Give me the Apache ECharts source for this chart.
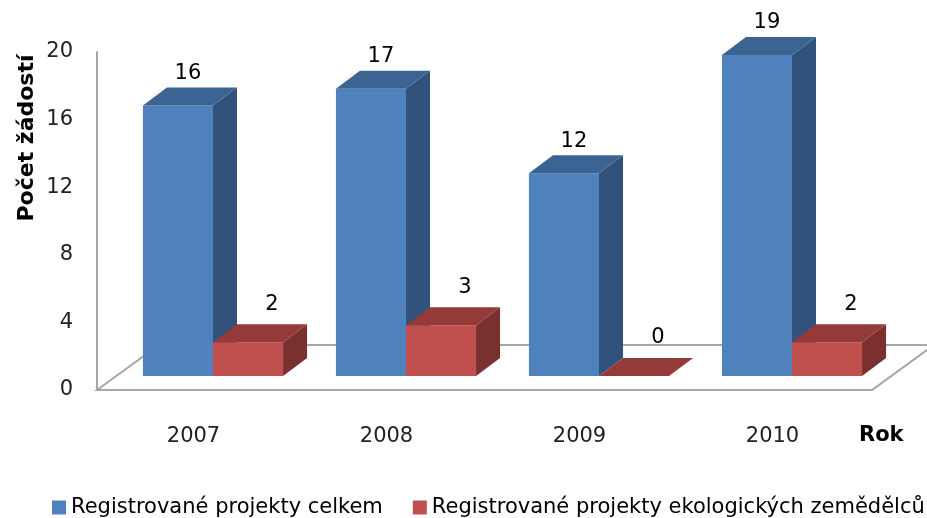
<!DOCTYPE html>
<html>
<head>
<meta charset="utf-8">
<script src="https://cdn.jsdelivr.net/npm/echarts@6/dist/echarts.min.js"></script>
<style>
  html, body { margin: 0; padding: 0; background: #fff; }
  #main { width: 927px; height: 518px; }
</style>
</head>
<body>
<div id="main"></div>
<script>
// data
var years = ['2007', '2008', '2009', '2010'];
var totalProjects = [16, 17, 12, 19];
var ecoProjects = [2, 3, 0, 2];
var seriesNames = ['Registrované projekty celkem', 'Registrované projekty ekologických zemědělců'];

var FONT = '"DejaVu Sans", sans-serif';
var DEPTH_X = 24, DEPTH_Y = 18;     // bar depth
var FLOOR_X = 62, FLOOR_Y = 45;     // floor depth
var BAR_SHIFT_X = 19.5, BAR_SHIFT_Y = 14;

var myChart = echarts.init(document.getElementById('main'));

function barRenderer(side, colors, labelDx, labelDy) {
    return function (params, api) {
        var cat = api.value(0), v = api.value(1);
        var base = api.coord([cat, 0]);
        var top = api.coord([cat, v]);
        var band = api.size([1, 0])[0];
        var w = band * 0.363;
        var fx = base[0] + BAR_SHIFT_X - (side === 0 ? w : 0);
        var by = base[1] - BAR_SHIFT_Y;
        var ty = top[1] - BAR_SHIFT_Y;
        var children = [];
        if (by - ty > 0.5) {
            children.push({ type: 'rect', shape: { x: fx, y: ty, width: w, height: by - ty },
                style: { fill: colors[0] } });
            children.push({ type: 'polygon', shape: { points: [[fx + w, ty], [fx + w + DEPTH_X, ty - DEPTH_Y],
                [fx + w + DEPTH_X, by - DEPTH_Y], [fx + w, by]] }, style: { fill: colors[2] } });
        }
        children.push({ type: 'polygon', shape: { points: [[fx, ty], [fx + DEPTH_X, ty - DEPTH_Y],
            [fx + w + DEPTH_X, ty - DEPTH_Y], [fx + w, ty]] }, style: { fill: colors[1] } });
        // value label above the top face
        children.push({ type: 'text', style: {
            text: String(v), x: fx + w / 2 + labelDx, y: ty - DEPTH_Y - labelDy,
            textAlign: 'center', textVerticalAlign: 'middle',
            font: '21px ' + FONT, fill: '#000'
        } });
        return { type: 'group', children: children };
    };
}

var option = {
    animation: false,
    grid: { left: 97, right: 58, top: 52, bottom: 128 },
    legend: {
        data: seriesNames,
        left: 52, top: 497, width: 2000, padding: 0,
        icon: 'rect', itemWidth: 14, itemHeight: 14, itemGap: 30,
        textStyle: { fontFamily: FONT, fontSize: 21, color: '#000' }
    },
    xAxis: {
        type: 'category',
        data: years,
        name: 'Rok',
        nameLocation: 'end',
        nameGap: -10,
        nameTextStyle: { fontFamily: FONT, fontSize: 21, fontWeight: 'bold', color: '#000',
            verticalAlign: 'top', padding: [35, 0, 0, 0] },
        axisLine: { show: false },
        axisTick: { show: false },
        axisLabel: { fontFamily: FONT, fontSize: 21, color: '#222', margin: 36 }
    },
    yAxis: {
        type: 'value',
        min: 0, max: 20, interval: 4,
        axisLine: { show: true, lineStyle: { color: '#a6a6a6', width: 2 } },
        axisTick: { show: false },
        splitLine: { show: false },
        axisLabel: { fontFamily: FONT, fontSize: 21, color: '#222', margin: 24 }
    },
    graphic: [{
        type: 'text', x: 27, y: 138, rotation: Math.PI / 2,
        style: { text: 'Počet žádostí', textAlign: 'center', textVerticalAlign: 'middle',
            font: 'bold 22px ' + FONT, fill: '#000' }
    }],
    series: [
        {
            type: 'custom', name: 'floor', silent: true, z: 1,
            data: [[0, 0]],
            renderItem: function (params, api) {
                var cs = params.coordSys;
                var x0 = cs.x, x1 = cs.x + cs.width + 3, y0 = cs.y + cs.height;
                return {
                    type: 'polygon',
                    shape: { points: [[x0, y0], [x0 + FLOOR_X, y0 - FLOOR_Y], [x1 + FLOOR_X, y0 - FLOOR_Y], [x1, y0]] },
                    style: { fill: '#fff', stroke: '#a6a6a6', lineWidth: 2 }
                };
            }
        },
        {
            type: 'custom', name: seriesNames[0], z: 2,
            itemStyle: { color: '#4f81bd' },
            data: years.map(function (y, i) { return [i, totalProjects[i]]; }),
            renderItem: barRenderer(0, ['#4f81bd', '#3b6492', '#31527a'], 10, 14)
        },
        {
            type: 'custom', name: seriesNames[1], z: 3,
            itemStyle: { color: '#c0504d' },
            data: years.map(function (y, i) { return [i, ecoProjects[i]]; }),
            renderItem: barRenderer(1, ['#c0504d', '#943b39', '#7a302e'], 24, 20)
        }
    ]
};
myChart.setOption(option);
</script>
</body>
</html>
